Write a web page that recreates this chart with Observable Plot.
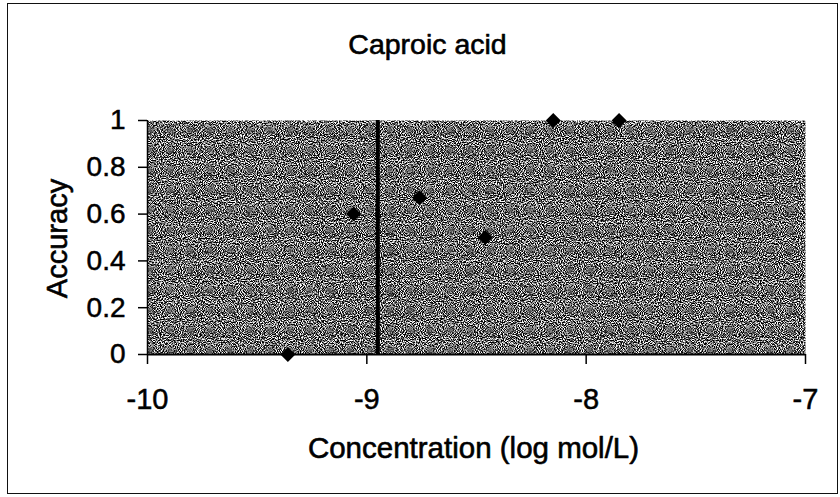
<!DOCTYPE html>
<html>
<head>
<meta charset="utf-8">
<script src="https://cdn.jsdelivr.net/npm/d3@7"></script>
<script src="https://cdn.jsdelivr.net/npm/@observablehq/plot@0.6"></script>
<style>
  html, body { margin: 0; padding: 0; background: #fff; }
  #wrap { position: relative; width: 840px; height: 497px; }
  #border { position: absolute; left: 7px; top: 3px; width: 829px; height: 489px;
            border: 1.5px solid #111; pointer-events: none; }
  g[aria-label="x-axis tick label"] text,
  g[aria-label="y-axis tick label"] text { stroke: #000; stroke-width: 0.5px; }
</style>
</head>
<body>
<div id="wrap"><div id="border"></div></div>
<script>
// ---- data ----
const concentration = [-9.36, -9.06, -8.76, -8.46, -8.15, -7.85];
const accuracy = [0, 0.6, 0.67, 0.5, 1, 1];
const thresholdX = [-8.95];
const xTicks = [-10, -9, -8, -7];
const yTicks = [0, 0.2, 0.4, 0.6, 0.8, 1];
const titleText = "Caproic acid";
const xLabelText = "Concentration (log mol/L)";
const yLabelText = "Accuracy";

const points = concentration.map((c, i) => ({x: c, y: accuracy[i]}));

// square rotated 45° (Excel diamond marker)
const diamond = {
  draw(ctx, size) {
    const s = Math.sqrt(size / 2);
    ctx.moveTo(0, -s); ctx.lineTo(s, 0); ctx.lineTo(0, s); ctx.lineTo(-s, 0); ctx.closePath();
  }
};

const ink = {stroke: "#000", strokeWidth: 0.6, fill: "#000"};

const chart = Plot.plot({
  width: 840,
  height: 497,
  marginLeft: 147,
  marginRight: 35,
  marginTop: 120,
  marginBottom: 143,
  style: {fontFamily: "'Liberation Sans', Arial, sans-serif", background: "transparent", color: "#000"},
  x: {domain: [-10, -7]},
  y: {domain: [0, 1]},
  marks: [
    Plot.frame({fill: "#6c6c6c", stroke: null, className: "plotarea"}),
    Plot.ruleX(thresholdX, {stroke: "#000", strokeWidth: 4}),
    Plot.ruleY([0], {stroke: "#000", strokeWidth: 2}),
    Plot.ruleX([-10], {stroke: "#000", strokeWidth: 1.5}),
    Plot.axisX({ticks: xTicks, tickSize: 10, tickPadding: 24, tickFormat: d => String(d),
                fontSize: 29, strokeWidth: 1.5, label: null}),
    Plot.axisY({ticks: yTicks, tickSize: 9, tickPadding: 13, tickFormat: d => String(d),
                fontSize: 28, strokeWidth: 1.5, label: null}),
    Plot.dot(points, {x: "x", y: "y", symbol: diamond, r: 6, fill: "#000", stroke: null}),
    Plot.text([titleText], {text: d => d, frameAnchor: "top", dx: -49, dy: -87,
                            lineAnchor: "top", fontSize: 28.5, ...ink}),
    Plot.text([xLabelText], {text: d => d, frameAnchor: "bottom", dx: -3, dy: 83,
                             lineAnchor: "top", fontSize: 29.5, ...ink}),
    Plot.text([yLabelText], {text: d => d, frameAnchor: "left", dx: -90, dy: 1,
                             textAnchor: "middle", rotate: -90, fontSize: 29, ...ink})
  ]
});

// scanned-paper speckle texture on the plot area
const svg = d3.select(chart);
const defs = svg.insert("defs", ":first-child");
const f = defs.append("filter").attr("id", "speckle")
  .attr("x", 0).attr("y", 0).attr("width", "100%").attr("height", "100%")
  .attr("color-interpolation-filters", "sRGB");
f.append("feTurbulence").attr("type", "fractalNoise").attr("baseFrequency", 0.95)
  .attr("numOctaves", 1).attr("seed", 7).attr("result", "t");
f.append("feColorMatrix").attr("in", "t").attr("type", "matrix")
  .attr("values", "4 0 0 0 -1.6  4 0 0 0 -1.6  4 0 0 0 -1.6  0 0 0 0 1").attr("result", "g");
f.append("feComposite").attr("in", "g").attr("in2", "SourceGraphic").attr("operator", "in");
svg.selectAll(".plotarea rect, rect.plotarea").attr("filter", "url(#speckle)");

document.getElementById("wrap").prepend(chart);
</script>
</body>
</html>
